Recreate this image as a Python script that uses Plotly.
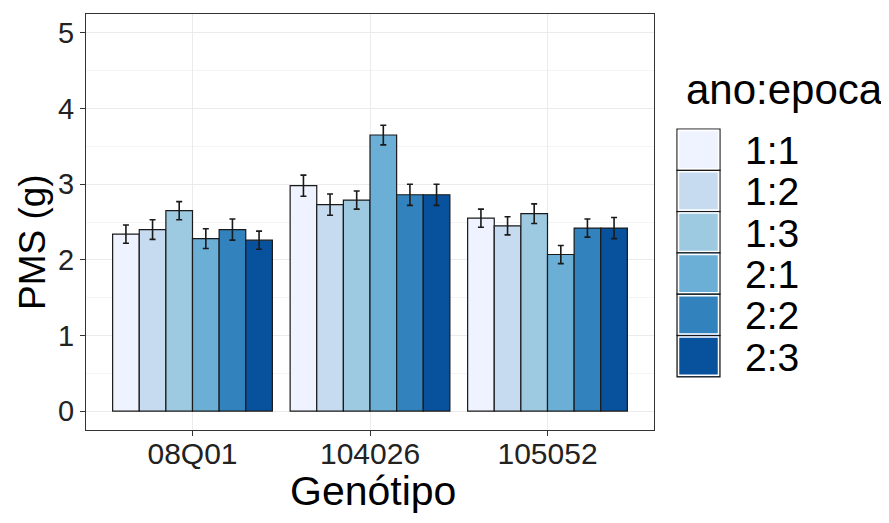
import plotly.graph_objects as go

genotipos = ["08Q01", "104026", "105052"]
grupos = ["1:1", "1:2", "1:3", "2:1", "2:2", "2:3"]
cores = ["#EFF3FF", "#C6DBEF", "#9ECAE1", "#6BAED6", "#3182BD", "#08519C"]

# PMS (g) per group (ano:epoca) for each genotype
pms = {
    "1:1": [2.34, 2.98, 2.55],
    "1:2": [2.40, 2.73, 2.45],
    "1:3": [2.65, 2.79, 2.61],
    "2:1": [2.28, 3.65, 2.07],
    "2:2": [2.40, 2.86, 2.42],
    "2:3": [2.26, 2.86, 2.42],
}
erro = {
    "1:1": [0.12, 0.14, 0.12],
    "1:2": [0.13, 0.14, 0.12],
    "1:3": [0.12, 0.12, 0.13],
    "2:1": [0.13, 0.13, 0.12],
    "2:2": [0.14, 0.14, 0.12],
    "2:3": [0.12, 0.14, 0.14],
}

FONT = "Arial, Liberation Sans, sans-serif"
fig = go.Figure()
for g, c in zip(grupos, cores):
    fig.add_trace(go.Bar(
        x=genotipos, y=pms[g], name=g,
        marker=dict(color=c, line=dict(color="#1a1a1a", width=1.2)),
        error_y=dict(type="data", array=erro[g], color="#1a1a1a", thickness=1.6, width=3),
        showlegend=False,
    ))

OFF = 8  # page body margin
W, H = 881, 515
L, R, T, B = 78, 235, 6, 93
pw, ph = W - L - R, H - T - B

def px(x):
    return (x - OFF - L) / pw

def py(y):
    return (OFF + T + ph - y) / ph

shapes = []
annotations = []
key_top = 129
key_h = 41.3
for i, (g, c) in enumerate(zip(grupos, cores)):
    y0 = key_top + i * key_h
    shapes.append(dict(type="rect", xref="paper", yref="paper",
                       x0=px(677), x1=px(720), y0=py(y0 + key_h), y1=py(y0),
                       fillcolor=c, line=dict(color="#1a1a1a", width=1.2)))
    shapes.append(dict(type="rect", xref="paper", yref="paper",
                       x0=px(678.5), x1=px(718.5), y0=py(y0 + key_h - 1.5), y1=py(y0 + 1.5),
                       fillcolor=c, line=dict(color="white", width=1.5)))
    annotations.append(dict(x=px(743), y=py(y0 + key_h / 2 + 1), xref="paper", yref="paper",
                            text=g, showarrow=False, xanchor="left", yanchor="middle",
                            font=dict(family=FONT, size=39, color="black")))
annotations.append(dict(x=px(684), y=py(89), xref="paper", yref="paper",
                        text="ano:epoca", showarrow=False, xanchor="left", yanchor="middle",
                        font=dict(family=FONT, size=42, color="black")))
# axis titles
annotations.append(dict(x=px(373), y=py(491), xref="paper", yref="paper",
                        text="Genótipo", showarrow=False, xanchor="center", yanchor="middle",
                        font=dict(family=FONT, size=41, color="black")))
annotations.append(dict(x=px(32), y=py(242), xref="paper", yref="paper",
                        text="PMS (g)", showarrow=False, xanchor="center", yanchor="middle",
                        textangle=-90, font=dict(family=FONT, size=37, color="black")))

fig.update_layout(
    width=W, height=H,
    margin=dict(l=L, r=R, t=T, b=B),
    paper_bgcolor="white", plot_bgcolor="white",
    barmode="group", bargap=0.1, bargroupgap=0,
    font=dict(family=FONT, color="black"),
    shapes=shapes, annotations=annotations,
    xaxis=dict(
        range=[-0.6, 2.6], showgrid=True, gridcolor="#EBEBEB", gridwidth=1,
        ticks="outside", ticklen=5, tickcolor="#333333",
        tickfont=dict(size=30, color="#222222"), ticklabelstandoff=-8,
        showline=True, linecolor="#333333", linewidth=1, mirror=True,
        automargin=False,
    ),
    yaxis=dict(
        range=[-0.25, 5.25], tickvals=[0, 1, 2, 3, 4, 5],
        showgrid=True, gridcolor="#EBEBEB", gridwidth=1,
        minor=dict(tickvals=[0.5, 1.5, 2.5, 3.5, 4.5], showgrid=True, gridcolor="#F4F4F4", gridwidth=1),
        ticks="outside", ticklen=5, tickcolor="#333333",
        tickfont=dict(size=29, color="#222222"),
        showline=True, linecolor="#333333", linewidth=1, mirror=True,
        zeroline=False, automargin=False,
    ),
)

fig.write_html("out.html")
